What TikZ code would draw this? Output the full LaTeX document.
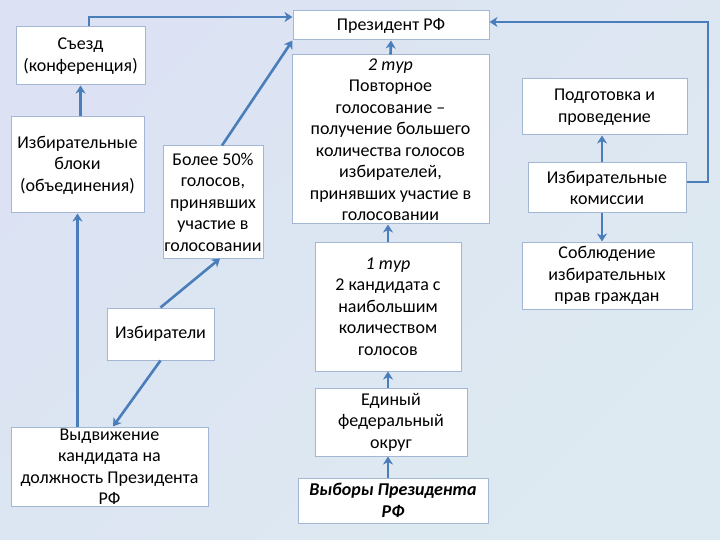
\documentclass[tikz,border=0pt]{standalone}
\usepackage{fontspec}
\setmainfont{Carlito}
\usetikzlibrary{arrows.meta,calc}
\definecolor{arrowblue}{HTML}{4A7EBB}
\definecolor{boxedge}{HTML}{A3B6D3}
\definecolor{bgA}{HTML}{DCE2F3}
\definecolor{bgB}{HTML}{C4D3EA}
\definecolor{bgC}{HTML}{DDEAF1}
\tikzset{
  box/.style={draw=boxedge, line width=1pt, fill=white, inner sep=0pt, align=center,
    font=\fontsize{18}{21.5}\selectfont},
  arr/.style={draw=arrowblue, line width=2.6pt, -{Stealth[length=8pt,width=10pt,inset=2.5pt]}}
}
\begin{document}
\begin{tikzpicture}[x=1pt,y=-1pt]
\useasboundingbox (0,0) rectangle (720,540);
\shade[shading=axis, top color=bgA, middle color=bgB, bottom color=bgC, shading angle=45] (0,0) rectangle (720,540);

\node[box, minimum width=196, minimum height=29] (pres) at (391,25.5) {Президент РФ};
\node[box, minimum width=129, minimum height=58] (sezd) at (80.5,56) {Съезд\\(конференция)};
\node[box, minimum width=133, minimum height=96] (bloki) at (77.5,165) {Избирательные\\блоки\\(объединения)};
\node[box, minimum width=100, minimum height=112] (bolee) at (213,202) {Более 50\%\\голосов,\\принявших\\участие в\\голосовании};
\node[box, minimum width=107, minimum height=52] (izb) at (160.5,334) {Избиратели};
\node[box, minimum width=197, minimum height=79] (vydv) at (109.5,466.5) {Выдвижение\\кандидата на\\должность Президента\\РФ};
\node[box, minimum width=197, minimum height=169] (tur2) at (390.5,139.5) {\textit{2 тур}\\Повторное\\голосование –\\получение большего\\количества голосов\\избирателей,\\принявших участие в\\голосовании};
\node[box, minimum width=146, minimum height=129] (tur1) at (388,306.5) {\textit{1 тур}\\2 кандидата с\\наибольшим\\количеством\\голосов};
\node[box, minimum width=152, minimum height=68] (edin) at (391,422) {Единый\\федеральный\\округ};
\node[box, minimum width=190, minimum height=45] (vybory) at (393,500.5) {\textbf{\textit{Выборы Президента}}\\\textbf{\textit{РФ}}};
\node[box, minimum width=165, minimum height=56] (podg) at (604.5,107) {Подготовка и\\проведение};
\node[box, minimum width=158, minimum height=50] (kom) at (607,188) {Избирательные\\комиссии};
\node[box, minimum width=170, minimum height=67] (sobl) at (607,275.5) {Соблюдение\\избирательных\\прав граждан};

% connectors
\draw[arr] ($(sezd.north)+(8.5,0)$) |- ($(pres.west)+(0,-8.5)$);
\draw[arr] ($(bolee.north)+(9,0)$) -- (pres.south west);
\draw[arr] (izb.north) -- ($(bolee.south)+(7,0)$);
\draw[arr] (izb.south) -- ($(vydv.north)+(3.5,0)$);
\draw[arr] (vydv.north -| bloki.south) -- (bloki.south);
\draw[arr] (bloki.north -| sezd.south) -- (sezd.south);
\draw[arr] (tur2.north) -- (pres.south);
\draw[arr] (tur1.north) -- (tur1.north |- tur2.south);
\draw[arr] (edin.north -| tur1.south) -- (tur1.south);
\draw[arr] (vybory.north -| tur1.south) -- (edin.south -| tur1.south);
\coordinate (kx) at ($(kom.north)+(-5,0)$);
\draw[arr] (kx) -- (kx |- podg.south);
\draw[arr] (kx |- kom.south) -- (kx |- sobl.north);
\coordinate (ke) at ($(kom.east)+(0,-6)$);
\coordinate (pe) at ($(pres.east)+(0,-3.5)$);
\coordinate (rc) at (708,0);
\draw[arr] (ke) -| (rc |- pe) -- (pe);
\end{tikzpicture}
\end{document}
